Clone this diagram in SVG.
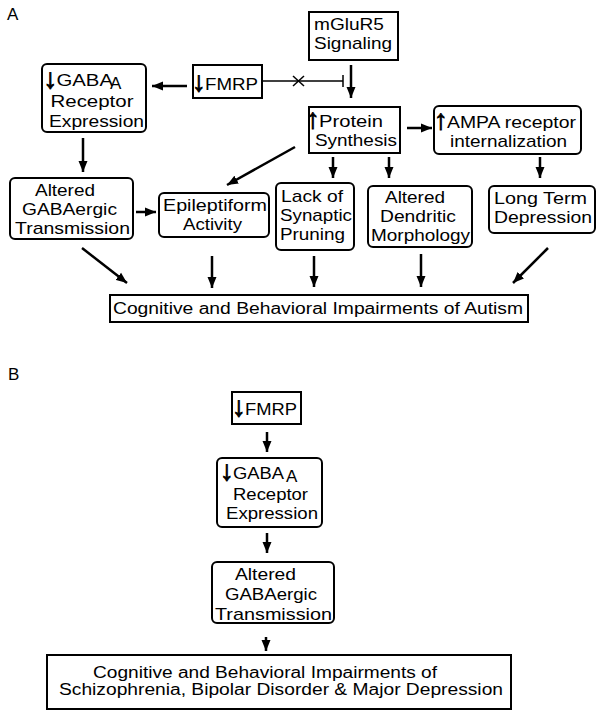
<svg xmlns="http://www.w3.org/2000/svg" width="602" height="717" viewBox="0 0 602 717">
<style>
text{font-family:"Liberation Sans",Arial,sans-serif;font-size:17px;fill:#000}
.lbl{font-size:17px}
.ar{font-weight:bold;font-size:28px;stroke:#000;stroke-width:0.9}
.box{fill:#fff;stroke:#000;stroke-width:2}
.c line{stroke:#000;stroke-width:2.5}
.c .thin{stroke-width:1.5}
.bt{font-size:16px}
</style>
<defs>
<marker id="ah" markerUnits="userSpaceOnUse" markerWidth="11" markerHeight="10" refX="11" refY="5" orient="auto">
<path d="M0,0.5 L11,5 L0,9.5 z" fill="#000"/>
</marker>
</defs>
<rect width="602" height="717" fill="#fff"/>
<text class="lbl" x="7" y="20">A</text>
<text class="lbl" x="8" y="380">B</text>

<g class="c" id="connectors">
<line x1="187" y1="86" x2="152" y2="86" marker-end="url(#ah)"/>
<line class="thin" x1="262" y1="81" x2="343" y2="81"/>
<line class="thin" x1="343" y1="75" x2="343" y2="87"/>
<line class="thin" x1="293" y1="76" x2="304" y2="86"/>
<line class="thin" x1="293" y1="86" x2="304" y2="76"/>
<line x1="351" y1="65" x2="351" y2="98" marker-end="url(#ah)"/>
<line x1="407" y1="128" x2="432" y2="128" marker-end="url(#ah)"/>
<line x1="83" y1="138" x2="83" y2="172" marker-end="url(#ah)"/>
<line x1="295" y1="147" x2="227" y2="185" marker-end="url(#ah)"/>
<line x1="333" y1="157" x2="333" y2="178" marker-end="url(#ah)"/>
<line x1="389" y1="157" x2="389" y2="178" marker-end="url(#ah)"/>
<line x1="540" y1="157" x2="540" y2="178" marker-end="url(#ah)"/>
<line x1="136" y1="212" x2="156" y2="212" marker-end="url(#ah)"/>
<line x1="82" y1="248" x2="127" y2="283" marker-end="url(#ah)"/>
<line x1="212" y1="256" x2="212" y2="288" marker-end="url(#ah)"/>
<line x1="314" y1="256" x2="314" y2="287" marker-end="url(#ah)"/>
<line x1="421" y1="254" x2="421" y2="287" marker-end="url(#ah)"/>
<line x1="548" y1="248" x2="513" y2="283" marker-end="url(#ah)"/>
<line x1="267" y1="432" x2="267" y2="452" marker-end="url(#ah)"/>
<line x1="267" y1="533" x2="267" y2="553" marker-end="url(#ah)"/>
<line x1="266" y1="637" x2="266" y2="651" marker-end="url(#ah)"/>
</g>

<g id="gabaA">
<rect class="box" x="42" y="64" width="104" height="68" rx="5"/>
<text class="ar" x="43.5" y="88">↓</text>
<text x="56.5" y="86" textLength="56.5" lengthAdjust="spacingAndGlyphs">GABA</text>
<text x="110" y="89" font-size="15">A</text>
<text x="50.5" y="107" textLength="83" lengthAdjust="spacingAndGlyphs">Receptor</text>
<text x="49" y="127" textLength="95" lengthAdjust="spacingAndGlyphs">Expression</text>
</g>

<g id="fmrpA">
<rect class="box" x="193" y="65" width="69" height="33"/>
<text class="ar" x="192" y="91">↓</text>
<text x="205" y="90" textLength="53" lengthAdjust="spacingAndGlyphs">FMRP</text>
</g>

<g id="mglur5">
<rect class="box" x="309" y="12" width="89" height="48"/>
<text x="314" y="30" textLength="70" lengthAdjust="spacingAndGlyphs">mGluR5</text>
<text x="314" y="49" textLength="78" lengthAdjust="spacingAndGlyphs">Signaling</text>
</g>

<g id="protein">
<rect class="box" x="309" y="107" width="91" height="46"/>
<text class="ar" x="306" y="128">↑</text>
<text x="319" y="127" textLength="64" lengthAdjust="spacingAndGlyphs">Protein</text>
<text x="315" y="146" textLength="82" lengthAdjust="spacingAndGlyphs">Synthesis</text>
</g>

<g id="ampa">
<rect class="box" x="434" y="106" width="147" height="48" rx="5"/>
<text class="ar" x="434" y="129">↑</text>
<text x="447" y="128" textLength="129" lengthAdjust="spacingAndGlyphs">AMPA receptor</text>
<text x="450" y="147" textLength="117" lengthAdjust="spacingAndGlyphs">internalization</text>
</g>

<g id="alteredA">
<rect class="box" x="10" y="178" width="123" height="61" rx="5"/>
<text x="35" y="196" textLength="60" lengthAdjust="spacingAndGlyphs">Altered</text>
<text x="22" y="215" textLength="95" lengthAdjust="spacingAndGlyphs">GABAergic</text>
<text x="15" y="234" textLength="115" lengthAdjust="spacingAndGlyphs">Transmission</text>
</g>

<g id="epileptiform">
<rect class="box" x="159" y="193" width="110" height="44" rx="5"/>
<text x="163" y="211" textLength="104" lengthAdjust="spacingAndGlyphs">Epileptiform</text>
<text x="183" y="230" textLength="59" lengthAdjust="spacingAndGlyphs">Activity</text>
</g>

<g id="lack">
<rect class="box" x="276" y="183" width="78" height="67" rx="5"/>
<text x="281" y="202" textLength="62" lengthAdjust="spacingAndGlyphs">Lack of</text>
<text x="280" y="221" textLength="72" lengthAdjust="spacingAndGlyphs">Synaptic</text>
<text x="280" y="240" textLength="65" lengthAdjust="spacingAndGlyphs">Pruning</text>
</g>

<g id="dendritic">
<rect class="box" x="368" y="186" width="104" height="61" rx="5"/>
<text x="385" y="203" textLength="60" lengthAdjust="spacingAndGlyphs">Altered</text>
<text x="380" y="222" textLength="76" lengthAdjust="spacingAndGlyphs">Dendritic</text>
<text x="371" y="241" textLength="99" lengthAdjust="spacingAndGlyphs">Morphology</text>
</g>

<g id="ltd">
<rect class="box" x="489" y="186" width="106" height="47" rx="5"/>
<text x="494" y="204" textLength="93" lengthAdjust="spacingAndGlyphs">Long Term</text>
<text x="494" y="223" textLength="98" lengthAdjust="spacingAndGlyphs">Depression</text>
</g>

<g id="autism">
<rect class="box" x="110" y="295" width="418" height="27"/>
<text class="bt" x="113" y="314" textLength="410" lengthAdjust="spacingAndGlyphs">Cognitive and Behavioral Impairments of Autism</text>
</g>

<g id="fmrpB">
<rect class="box" x="232" y="392" width="69" height="32"/>
<text class="ar" x="232" y="416">↓</text>
<text x="245" y="415" textLength="52" lengthAdjust="spacingAndGlyphs">FMRP</text>
</g>

<g id="gabaB">
<rect class="box" x="217" y="458" width="105" height="69" rx="5"/>
<text class="ar" x="220" y="480">↓</text>
<text x="233" y="479" textLength="51" lengthAdjust="spacingAndGlyphs">GABA</text>
<text x="286" y="482" font-size="15">A</text>
<text x="233" y="500" textLength="75" lengthAdjust="spacingAndGlyphs">Receptor</text>
<text x="226" y="519" textLength="92" lengthAdjust="spacingAndGlyphs">Expression</text>
</g>

<g id="alteredB">
<rect class="box" x="212" y="562" width="122" height="61" rx="5"/>
<text x="235" y="580" textLength="61" lengthAdjust="spacingAndGlyphs">Altered</text>
<text x="225" y="600" textLength="92" lengthAdjust="spacingAndGlyphs">GABAergic</text>
<text x="215" y="620" textLength="117" lengthAdjust="spacingAndGlyphs">Transmission</text>
</g>

<g id="schizo">
<rect class="box" x="47" y="655" width="464" height="54"/>
<text class="bt" x="93" y="678" textLength="344" lengthAdjust="spacingAndGlyphs">Cognitive and Behavioral Impairments of</text>
<text class="bt" x="59" y="695" textLength="444" lengthAdjust="spacingAndGlyphs">Schizophrenia, Bipolar Disorder &amp; Major Depression</text>
</g>
</svg>
